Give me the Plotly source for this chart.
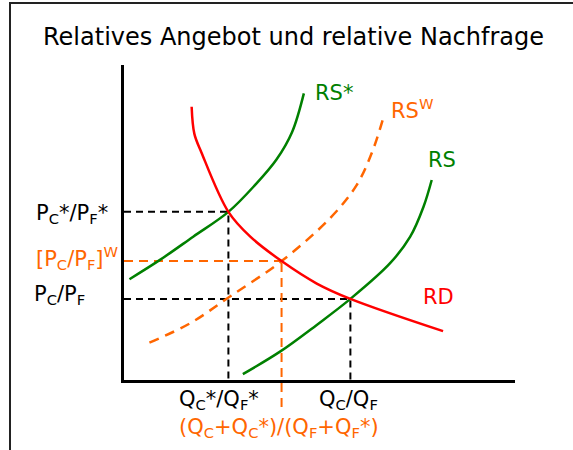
import plotly.graph_objects as go

# ---- data (abstract units; origin at axis corner) ----
rs_star_x = [0.14, 0.92, 1.77, 2.67, 3.35, 3.90, 4.30, 4.60]
rs_star_y = [2.56, 3.05, 3.64, 4.27, 4.95, 5.60, 6.30, 7.28]

rd_x = [1.73, 1.80, 1.98, 2.67, 3.23, 4.03, 4.93, 5.79, 8.16]
rd_y = [6.94, 6.25, 5.78, 4.27, 3.64, 3.02, 2.45, 2.06, 1.24]

rs_x = [3.04, 3.99, 4.93, 5.79, 6.80, 7.32, 7.66, 7.87]
rs_y = [0.15, 0.72, 1.40, 2.06, 2.96, 3.64, 4.40, 5.08]

rsw_x = [0.65, 1.69, 2.71, 4.03, 5.27, 5.95, 6.35, 6.62]
rsw_y = [0.95, 1.44, 2.12, 3.02, 4.11, 4.95, 5.80, 6.62]

p_star, p_w, p_home = 4.27, 3.02, 2.06
q_star, q_w, q_home = 2.67, 4.03, 5.79

X_MAX, Y_MAX = 10.0, 8.0

title_text = "Relatives Angebot und relative Nachfrage"
label_p_star = "P<sub>C</sub>*/P<sub>F</sub>*"
label_p_w = "[P<sub>C</sub>/P<sub>F</sub>]<sup>W</sup>"
label_p_home = "P<sub>C</sub>/P<sub>F</sub>"
label_q_star = "Q<sub>C</sub>*/Q<sub>F</sub>*"
label_q_home = "Q<sub>C</sub>/Q<sub>F</sub>"
label_q_w = "(Q<sub>C</sub>+Q<sub>C</sub>*)/(Q<sub>F</sub>+Q<sub>F</sub>*)"

# ---- styles / layout ----
W, H = 573, 450
L, R, T, B = 124, 58, 65, 70
GREEN = "#008000"
RED = "#ff0000"
ORANGE = "#ff6600"
FONT = "DejaVu Sans"

def px(xp):
    return (xp - L) / (W - L - R)

def py(yp):
    return (H - B - yp) / (H - T - B)

fig = go.Figure()

# dashed guides
fig.add_trace(go.Scatter(x=[0, q_star, q_star], y=[p_star, p_star, 0], mode="lines",
                         line=dict(color="black", width=2, dash="7px,5px"), hoverinfo="skip"))
fig.add_trace(go.Scatter(x=[0, q_home, q_home], y=[p_home, p_home, 0], mode="lines",
                         line=dict(color="black", width=2, dash="7px,5px"), hoverinfo="skip"))
fig.add_trace(go.Scatter(x=[0, q_w], y=[p_w, p_w], mode="lines",
                         line=dict(color=ORANGE, width=2, dash="9px,6px"), hoverinfo="skip"))

# curves
fig.add_trace(go.Scatter(x=rsw_x, y=rsw_y, mode="lines",
                         line=dict(color=ORANGE, width=2.5, dash="10px,7px", shape="spline", smoothing=1)))
fig.add_trace(go.Scatter(x=rs_star_x, y=rs_star_y, mode="lines",
                         line=dict(color=GREEN, width=2.5, shape="spline", smoothing=1)))
fig.add_trace(go.Scatter(x=rs_x, y=rs_y, mode="lines",
                         line=dict(color=GREEN, width=2.5, shape="spline", smoothing=1)))
fig.add_trace(go.Scatter(x=rd_x, y=rd_y, mode="lines",
                         line=dict(color=RED, width=2.5, shape="spline", smoothing=1)))

shapes = [
    # orange vertical guide running below the axis
    dict(type="line", xref="x", yref="paper", x0=q_w, x1=q_w, y0=py(407), y1=p_w / Y_MAX,
         line=dict(color=ORANGE, width=2, dash="9px,6px")),
    # outer frame
    dict(type="rect", xref="paper", yref="paper", x0=px(10), x1=px(590), y0=py(3), y1=py(470),
         line=dict(color="#222", width=2), layer="above"),
]

def ann(text, xp, yp, color="black", size=21):
    return dict(text=text, xref="paper", yref="paper", x=px(xp), y=py(yp),
                xanchor="left", yanchor="middle", showarrow=False,
                font=dict(family=FONT, size=size, color=color))

annotations = [
    ann(label_p_star, 34, 214),
    ann(label_p_w, 34, 258, ORANGE),
    ann(label_p_home, 32, 295),
    ann(label_q_star, 177, 400),
    ann(label_q_home, 317, 400),
    ann(label_q_w, 177, 428, ORANGE),
    ann("RS*", 313, 93, GREEN),
    ann("RS<sup>W</sup>", 389, 109, ORANGE),
    ann("RS", 426, 160, GREEN),
    ann("RD", 421, 297, RED),
    dict(text=title_text, xref="paper", yref="paper", x=px(293.5), y=py(37),
         xanchor="center", yanchor="middle", showarrow=False,
         font=dict(family=FONT, size=24, color="black")),
]

fig.update_layout(
    width=W, height=H, autosize=False,
    margin=dict(l=L, r=R, t=T, b=B, pad=0),
    paper_bgcolor="white", plot_bgcolor="white",
    showlegend=False,
    shapes=shapes, annotations=annotations,
    xaxis=dict(range=[0, X_MAX], showline=True, linecolor="black", linewidth=3,
               showgrid=False, zeroline=False, showticklabels=False, ticks="", fixedrange=True),
    yaxis=dict(range=[0, Y_MAX], showline=True, linecolor="black", linewidth=3,
               showgrid=False, zeroline=False, showticklabels=False, ticks="", fixedrange=True),
)

fig.write_html("out.html", config={"displayModeBar": False},
               post_script="document.body.style.margin='0px';document.body.style.overflow='hidden';")
